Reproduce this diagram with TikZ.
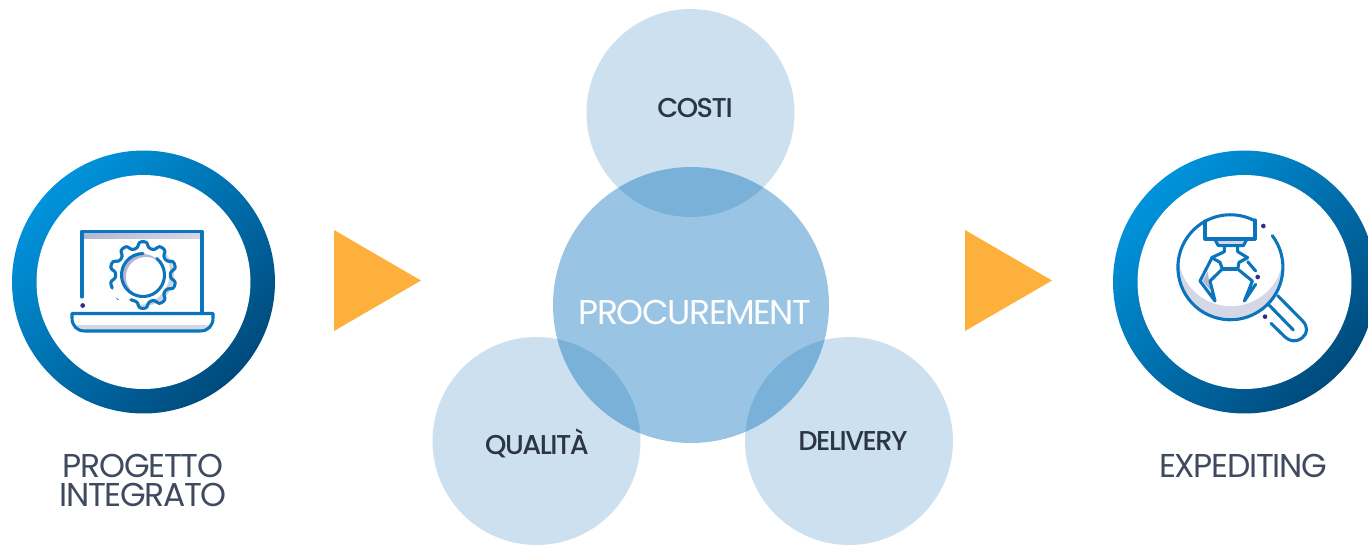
\documentclass[tikz,border=0pt]{standalone}
\usepackage{fontspec}
\newfontfamily\labelfont[LetterSpace=-4]{Poppins}
\newfontfamily\bubblefont[LetterSpace=-5.5]{Poppins Medium}
\definecolor{ringlight}{HTML}{0093DC}
\definecolor{ringdark}{HTML}{004A7C}
\definecolor{bubblelight}{HTML}{CCE0EF}
\definecolor{bubblemid}{HTML}{006BB9}
\definecolor{arrowfill}{HTML}{FDB03B}
\definecolor{iconline}{HTML}{0A74BC}
\definecolor{icondot}{HTML}{2E3085}
\definecolor{iconshade}{HTML}{D5D7E6}
\definecolor{iconshadedark}{HTML}{B4B6D4}
\definecolor{sidetext}{HTML}{3F4A5E}
\definecolor{bubbletext}{HTML}{2B3544}
\tikzset{
    ringouter/.style={circle, inner sep=0pt, minimum size=5.26cm, shading=axis, left color=ringlight, right color=ringdark, shading angle=45},
    ringinner/.style={circle, inner sep=0pt, minimum size=4.28cm, fill=white},
    bubble/.style={circle, inner sep=0pt, minimum size=4.16cm, fill=bubblelight},
    bubblecore/.style={circle, inner sep=0pt, minimum size=5.52cm, fill=bubblemid, fill opacity=0.4},
    sidelabel/.style={font=\labelfont\fontsize{18.8}{16.5}\selectfont, text=sidetext, inner sep=0pt, align=center},
    bubblelabel/.style={font=\bubblefont\fontsize{15.5}{15.5}\selectfont, text=bubbletext, inner sep=0pt},
    iconstroke/.style={draw=iconline, line width=1.75pt, line cap=round, line join=round},
}
\begin{document}
\begin{tikzpicture}[x=0.02cm, y=-0.02cm]
    \useasboundingbox (0,0) rectangle (1368,545);
    \clip (0,0) rectangle (1368,545);

    % Rings
    \foreach \n/\x in {progetto/143.5, expediting/1244.5} {
        \node[ringouter] (\n outer) at (\x,282) {};
        \node[ringinner] (\n inner) at (\x,282) {};
    }

    % Triangles
    \foreach \x in {334, 965} {
        \fill[arrowfill] (\x,230) -- (\x+87,280.5) -- (\x,331) -- cycle;
    }

    % Bubbles
    \node[bubble] (costi) at (690.5,113) {};
    \node[bubble] (qualita) at (536.5,441) {};
    \node[bubble] (delivery) at (849,441) {};
    \node[bubblecore] (procurement) at (691,305) {};

    % Bubble labels
    \node[bubblelabel] (costilabel) at (695,108) {COSTI};
    \node[bubblelabel] (qualitalabel) at (537,443) {QUALITÀ};
    \node[bubblelabel] (deliverylabel) at (853,441) {DELIVERY};
    \node[font=\labelfont\fontsize{19.6}{19.6}\selectfont, text=white, inner sep=0pt] (procurementlabel) at (695,312) {PROCUREMENT};

    % Side labels
    \node[sidelabel] (progettolabel) at (143,480.5) {PROGETTO\\INTEGRATO};
    \node[sidelabel] (expeditinglabel) at (1243,466) {EXPEDITING};

    % Laptop
    \shade[left color=iconshadedark, right color=iconshade] (83,232) rectangle (201,238);
    \fill[iconshade] (75,325) -- (210,325) -- (206,330) -- (80,330) -- cycle;
    \draw[iconstroke] (82,297) -- (82,231.5) -- (202,231.5) -- (202,313);
    \draw[iconstroke] (72,313.5) -- (213,313.5) -- (213,318) .. controls (213,326) and (208,331) .. (200,331) -- (85,331) .. controls (77,331) and (72,326) .. (72,318) -- cycle;
    \fill[icondot] (82.7,305.5) circle (2.4);
    \fill[icondot] (150.5,257) circle (2.4);
    \fill[icondot] (118.5,297.5) circle (2.4);

    % Gear
    \begin{scope}[shift={(143,275)}]
        \fill[iconshade!80!iconshadedark] (0,0) circle (31);
        \fill[white] (-6,-3) circle (33);
        \fill[iconshadedark] (0,0) circle (21);
        \fill[white] (3,2) circle (20);
        \draw[iconstroke] (-50:21.5) arc[start angle=-50, end angle=270, radius=21.5];
        \draw[iconstroke, rounded corners=1.5pt] (116:27.5)
            \foreach \a in {90,54,18,-18,-54,-90,-126,-162} {
                -- (\a+11:27.5) -- (\a+7:33.5) -- (\a-7:33.5) -- (\a-11:27.5)
            } -- (-198+11:27.5) -- (-198+7:33.5) -- (-198-5:33.5);
    \end{scope}

    % Magnifier
    \begin{scope}[shift={(1165,205)}, scale=1/3]
        \fill[iconshade] (197.5,186) circle (157.5);
        \fill[white] (197.5,146) circle (157.5);
        \fill[iconshade] (150,105) -- (245,105) -- (235,122) -- (160,122) -- cycle;
        \fill[iconshadedark] (128,200) -- (113,228) -- (137,258) -- cycle;
        \draw[iconstroke] (322,92) arc[start angle=-37, end angle=298, radius=157.5];
        \draw[iconstroke] (120,48) -- (120,102) -- (270,102) -- (270,45);
        \draw[iconstroke] (150,104) -- (160,122) -- (235,122) -- (245,104);
        % Claw
        \draw[iconstroke] (178,124) -- (178,140) -- (140,158) -- (165,172) -- (172,192) -- (135,228) -- (150,288) -- (105,228) -- (140,160);
        \draw[iconstroke] (218,124) -- (218,140) -- (248,158) -- (222,172) -- (218,192) -- (262,228) -- (238,288) -- (272,238);
        \draw[iconstroke] (172,192) -- (218,192);
        \draw[iconstroke] (248,170) -- (272,198);
        % Handle
        \draw[iconstroke] (338,272) -- (412,347) .. controls (430,365) and (428,385) .. (412,398) .. controls (395,412) and (375,410) .. (360,396) -- (318,355);
        \draw[iconstroke] (312,300) -- (385,375);
        \fill[icondot] (295,63) circle (7);
        \fill[icondot] (278,216) circle (7);
        \fill[icondot] (300,335) circle (7);
    \end{scope}

\end{tikzpicture}
\end{document}
